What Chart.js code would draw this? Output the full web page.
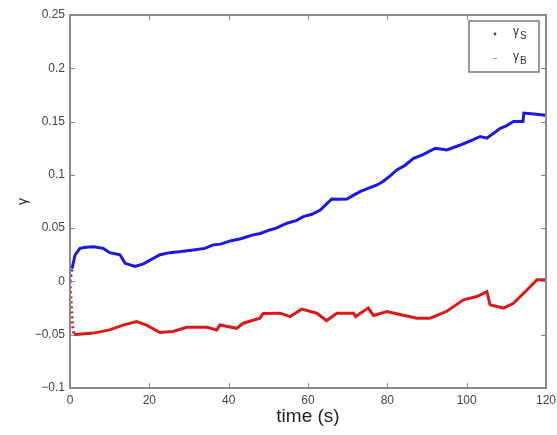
<!DOCTYPE html>
<html>
<head>
<meta charset="utf-8">
<script src="https://cdn.jsdelivr.net/npm/chart.js@4.4.1/dist/chart.umd.min.js"></script>
<style>
  html, body { margin: 0; padding: 0; background: #fff; }
  #wrap { width: 557px; height: 435px; }
</style>
</head>
<body>
<div id="wrap"><canvas id="gammaChart" width="557" height="435"></canvas></div>
<script>
// time (s) and gamma values
const sTime = [0, 0.5, 1.3, 2.5, 4, 6, 8.4, 10, 12.6, 13.9, 16.4, 18.5, 22.7, 25.2, 28, 31.1, 34, 36.1, 38, 40.4, 43, 46.2, 48, 50.4, 52, 54.7, 57, 58.8, 61, 63.1, 64.5, 66, 68, 69.8, 71.5, 73.1, 75, 77.4, 79, 80.7, 82.4, 84.5, 86.6, 89, 92.1, 95, 98.4, 101, 103.4, 105.1, 108.5, 110, 111.8, 114.2, 114.4, 117, 119.8];
const sVal  = [0, 0.012, 0.025, 0.031, 0.032, 0.0325, 0.031, 0.027, 0.025, 0.017, 0.014, 0.0165, 0.025, 0.027, 0.028, 0.0295, 0.031, 0.0343, 0.035, 0.038, 0.04, 0.0437, 0.045, 0.0483, 0.05, 0.0546, 0.057, 0.0608, 0.063, 0.067, 0.072, 0.0774, 0.077, 0.0774, 0.081, 0.0843, 0.087, 0.0905, 0.094, 0.099, 0.1046, 0.109, 0.1156, 0.119, 0.125, 0.1234, 0.128, 0.132, 0.136, 0.1344, 0.1437, 0.146, 0.15, 0.15, 0.158, 0.157, 0.156];

const bTime = [0, 0.3, 0.6, 1.0, 1.3, 5.9, 10, 13.4, 16.8, 19.3, 22.7, 26, 29.4, 34.5, 37, 37.8, 42, 43.7, 47.9, 48.7, 53, 55.5, 58.4, 62.2, 64.7, 67.3, 71.5, 72, 75.2, 76.5, 79.9, 83.2, 87.4, 90.8, 95, 99.2, 102.6, 105.1, 105.9, 109.3, 111.8, 115.2, 117.7, 120];
const bVal  = [0, -0.02, -0.04, -0.05, -0.0497, -0.0485, -0.0455, -0.041, -0.0377, -0.041, -0.048, -0.047, -0.043, -0.043, -0.0455, -0.0408, -0.044, -0.0392, -0.0345, -0.030, -0.0298, -0.033, -0.026, -0.0298, -0.0367, -0.0298, -0.0298, -0.033, -0.025, -0.032, -0.0283, -0.031, -0.0345, -0.0345, -0.028, -0.0173, -0.0142, -0.0096, -0.022, -0.025, -0.0205, -0.008, 0.0015, 0.0015];

const xTicks = [0, 20, 40, 60, 80, 100, 120];
const yTicks = [-0.1, -0.05, 0, 0.05, 0.1, 0.15, 0.2, 0.25];

function toPoints(ts, vs) {
    return ts.map((t, i) => ({ x: t, y: vs[i] }));
}

const dottedStart = ctx => ctx.p1.parsed.x <= 1.0 ? [2, 3] : undefined;

// matlab style box with inward ticks on all four sides
const boxPlugin = {
    id: 'boxPlugin',
    afterDraw(chart) {
        const { ctx, chartArea: a, scales } = chart;
        ctx.save();
        ctx.strokeStyle = '#8a8a8a';
        ctx.lineWidth = 1;
        const len = 5;
        ctx.beginPath();
        xTicks.forEach(v => {
            const px = Math.round(scales.x.getPixelForValue(v)) + 0.5;
            ctx.moveTo(px, a.bottom); ctx.lineTo(px, a.bottom - len);
            ctx.moveTo(px, a.top); ctx.lineTo(px, a.top + len);
        });
        yTicks.forEach(v => {
            const py = Math.round(scales.y.getPixelForValue(v)) + 0.5;
            ctx.moveTo(a.left, py); ctx.lineTo(a.left + len, py);
            ctx.moveTo(a.right, py); ctx.lineTo(a.right - len, py);
        });
        ctx.stroke();
        ctx.lineWidth = 2;
        ctx.strokeRect(a.left, a.top, a.right - a.left, a.bottom - a.top);

        // legend
        const lx = 469, ly = 21, lw = 70, lh = 51;
        ctx.fillStyle = '#fff';
        ctx.fillRect(lx, ly, lw, lh);
        ctx.lineWidth = 1.5;
        ctx.strokeStyle = '#777';
        ctx.strokeRect(lx, ly, lw, lh);
        ctx.fillStyle = '#444';
        ctx.beginPath();
        ctx.arc(495, 34, 1.4, 0, Math.PI * 2);
        ctx.fill();
        ctx.strokeStyle = '#999';
        ctx.lineWidth = 1;
        ctx.beginPath();
        ctx.moveTo(493, 58.5); ctx.lineTo(497, 58.5);
        ctx.stroke();
        ctx.fillStyle = '#333';
        ctx.textBaseline = 'alphabetic';
        ctx.font = '12px "Liberation Sans", Arial, sans-serif';
        ctx.fillText('\u03b3', 513, 35);
        ctx.fillText('\u03b3', 513, 60);
        ctx.font = '10px "Liberation Sans", Arial, sans-serif';
        ctx.fillText('S', 520, 39);
        ctx.fillText('B', 520, 64);
        ctx.restore();
    }
};

const ctx = document.getElementById('gammaChart').getContext('2d');
new Chart(ctx, {
    type: 'line',
    data: {
        datasets: [
            {
                label: '\u03b3S',
                data: toPoints(sTime, sVal),
                borderColor: 'rgb(25, 25, 225)',
                borderWidth: 3,
                pointRadius: 0,
                tension: 0,
                segment: { borderDash: dottedStart }
            },
            {
                label: '\u03b3B',
                data: toPoints(bTime, bVal),
                borderColor: 'rgb(220, 25, 25)',
                borderWidth: 3,
                pointRadius: 0,
                tension: 0,
                segment: { borderDash: dottedStart }
            }
        ]
    },
    options: {
        responsive: false,
        animation: false,
        layout: { padding: { left: 15, right: 11, top: 15, bottom: 7 } },
        plugins: {
            legend: { display: false },
            tooltip: { enabled: false }
        },
        scales: {
            x: {
                type: 'linear',
                min: 0,
                max: 120,
                afterFit: s => { s.height = 40; s.paddingRight = 0; s.paddingLeft = 0; },
                afterBuildTicks: s => { s.ticks = xTicks.map(v => ({ value: v })); },
                grid: { display: false, drawTicks: false },
                border: { display: false },
                ticks: {
                    color: '#444',
                    padding: 5,
                    font: { family: '"Liberation Sans", Arial, sans-serif', size: 12 }
                },
                title: {
                    display: true,
                    text: 'time (s)',
                    color: '#222',
                    padding: { top: 0, bottom: 0 },
                    font: { family: '"Liberation Sans", Arial, sans-serif', size: 19 }
                }
            },
            y: {
                min: -0.1,
                max: 0.25,
                afterFit: s => { s.width = 55; s.paddingTop = 0; s.paddingBottom = 0; },
                afterBuildTicks: s => { s.ticks = yTicks.map(v => ({ value: v })); },
                grid: { display: false, drawTicks: false },
                border: { display: false },
                ticks: {
                    color: '#444',
                    padding: 5,
                    font: { family: '"Liberation Sans", Arial, sans-serif', size: 12 },
                    callback: v => String(Math.round(v * 100) / 100).replace('-', '\u2212')
                },
                title: {
                    display: true,
                    text: '\u03b3',
                    color: '#222',
                    padding: { top: 0, bottom: 0 },
                    font: { family: '"Liberation Sans", Arial, sans-serif', size: 14 }
                }
            }
        }
    },
    plugins: [boxPlugin]
});
</script>
</body>
</html>
